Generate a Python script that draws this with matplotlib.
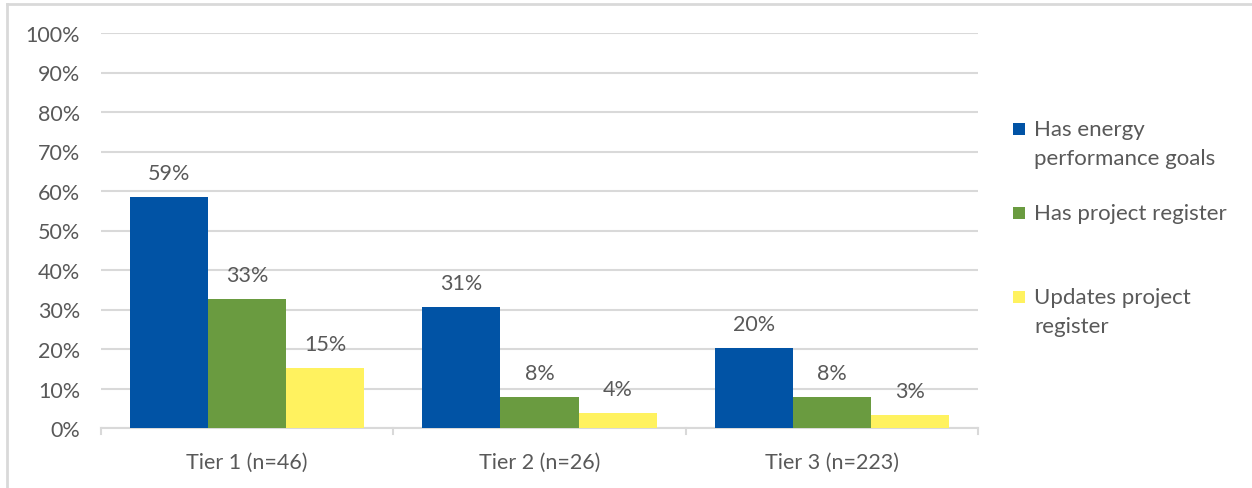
import matplotlib
matplotlib.use("Agg")
import matplotlib.pyplot as plt
import numpy as np
from matplotlib.lines import Line2D
from matplotlib.patches import Rectangle

categories = ["Tier 1 (n=46)", "Tier 2 (n=26)", "Tier 3 (n=223)"]
series_names = ["Has energy\nperformance goals", "Has project register", "Updates project\nregister"]
energy_goals = [0.585, 0.306, 0.203]
project_register = [0.327, 0.078, 0.078]
updates_register = [0.152, 0.038, 0.033]
labels_energy = ["59%", "31%", "20%"]
labels_register = ["33%", "8%", "8%"]
labels_updates = ["15%", "4%", "3%"]
y_ticks = [0, 0.1, 0.2, 0.3, 0.4, 0.5, 0.6, 0.7, 0.8, 0.9, 1.0]
y_tick_labels = ["0%", "10%", "20%", "30%", "40%", "50%", "60%", "70%", "80%", "90%", "100%"]

colors = ["#0153A5", "#6A9B40", "#FFF25F"]
text_color = "#595959"
grid_color = "#D9D9D9"

plt.rcParams['font.family'] = ['Lato', 'DejaVu Sans']

W, H = 1252, 489
fig = plt.figure(figsize=(W / 100, H / 100), dpi=100)
ax = fig.add_axes([101 / W, 1 - 429 / H, (978 - 101) / W, (429 - 34) / H])

x = np.arange(len(categories))
bw = 0.267
all_vals = [energy_goals, project_register, updates_register]
all_labels = [labels_energy, labels_register, labels_updates]
for i, (vals, labs) in enumerate(zip(all_vals, all_labels)):
    pos = x + (i - 1) * bw
    bars = ax.bar(pos, vals, width=bw, color=colors[i], zorder=3)
    for b, lab in zip(bars, labs):
        ax.annotate(lab, (b.get_x() + b.get_width() / 2, b.get_height()),
                    xytext=(0, 10), textcoords="offset points",
                    ha="center", va="bottom", fontsize=15.5, color=text_color)

ax.set_xlim(-0.5, 2.5)
ax.set_ylim(0, 1.0)
ax.set_yticks(y_ticks)
ax.set_yticklabels(y_tick_labels)
ax.yaxis.grid(True, color=grid_color, linewidth=1.5, zorder=0)
ax.set_axisbelow(True)
for s in ["top", "right", "left"]:
    ax.spines[s].set_visible(False)
ax.spines["bottom"].set_color(grid_color)
ax.spines["bottom"].set_linewidth(1.5)
ax.tick_params(axis="y", length=0, pad=15, labelsize=15.5, labelcolor=text_color)
ax.set_xticks(x)
ax.set_xticklabels(categories)
ax.tick_params(axis="x", length=0, pad=17, labelsize=15.5, labelcolor=text_color)
# category boundary tick marks
for bx in [-0.5, 0.5, 1.5, 2.5]:
    ax.plot([bx, bx], [0, -0.016], color=grid_color, linewidth=1.5, clip_on=False, zorder=2)

# legend
leg_y = [130, 214, 298]
for name, c, yy in zip(series_names, colors, leg_y):
    fig.add_artist(Rectangle(((1013) / W, 1 - (yy + 6) / H), 12 / W, 12 / H,
                             transform=fig.transFigure, facecolor=c, edgecolor="none"))
    fig.text(1034 / W, 1 - (yy - 10) / H, name, ha="left", va="top",
             fontsize=16, color=text_color, linespacing=1.55)

# border lines
fig.add_artist(Line2D([7 / W, 1.0], [1 - 5 / H, 1 - 5 / H], transform=fig.transFigure,
                      color=grid_color, linewidth=2))
fig.add_artist(Line2D([7 / W, 7 / W], [0, 1 - 5 / H], transform=fig.transFigure,
                      color=grid_color, linewidth=2))

fig.savefig("out.png", dpi=100, facecolor="white")
